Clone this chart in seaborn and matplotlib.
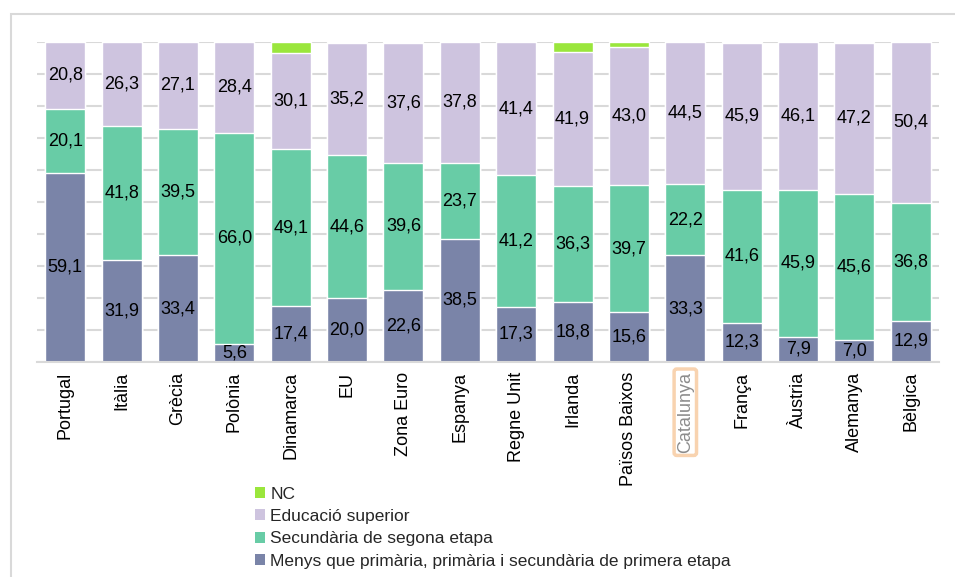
import matplotlib
matplotlib.use("Agg")
import numpy as np
import pandas as pd
import matplotlib.pyplot as plt
from matplotlib.patches import Rectangle, Patch
import seaborn as sns

# Data (percent of population by educational attainment)
countries = ["Portugal", "Itàlia", "Grècia", "Polònia", "Dinamarca", "EU", "Zona Euro",
             "Espanya", "Regne Unit", "Irlanda", "Països Baixos", "Catalunya", "França",
             "Àustria", "Alemanya", "Bèlgica"]
menys = [59.1, 31.9, 33.4, 5.6, 17.4, 20.0, 22.6, 38.5, 17.3, 18.8, 15.6, 33.3, 12.3, 7.9, 7.0, 12.9]
secundaria = [20.1, 41.8, 39.5, 66.0, 49.1, 44.6, 39.6, 23.7, 41.2, 36.3, 39.7, 22.2, 41.6, 45.9, 45.6, 36.8]
superior = [20.8, 26.3, 27.1, 28.4, 30.1, 35.2, 37.6, 37.8, 41.4, 41.9, 43.0, 44.5, 45.9, 46.1, 47.2, 50.4]
nc = [0.0, 0.0, 0.0, 0.0, 3.4, 0.2, 0.2, 0.0, 0.1, 3.0, 1.7, 0.0, 0.2, 0.1, 0.2, 0.0]

series_names = ["Menys que primària, primària i secundària de primera etapa",
                "Secundària de segona etapa", "Educació superior", "NC"]
colors = ["#7A84A8", "#68CCA6", "#CEC4DF", "#9AE63C"]

sns.set_theme(style="white")
plt.rcParams["font.family"] = ["Liberation Sans", "DejaVu Sans"]

df = pd.DataFrame({"pais": countries, "menys": menys, "sec": secundaria,
                   "sup": superior, "nc": nc})
cum = df[["menys", "sec", "sup", "nc"]].cumsum(axis=1)

fig = plt.figure(figsize=(9.55, 5.77), dpi=100)
ax = fig.add_axes([37 / 955, 1 - 362 / 577, 902 / 955, 320 / 577])

# draw stacked bars from the top layer down
for col, color in zip(["nc", "sup", "sec", "menys"], colors[::-1]):
    sns.barplot(x=df["pais"], y=cum[col], color=color, saturation=1, width=0.71,
                ax=ax, zorder=2)

ax.set_ylim(0, 100)
ax.set_xlim(-0.5, len(countries) - 0.5)
ax.set_yticks(np.arange(0, 101, 10))
ax.set_yticklabels([])
ax.tick_params(axis="y", length=0)
ax.yaxis.grid(True, color="#D9D9D9", linewidth=1.5, zorder=0)
ax.set_axisbelow(True)
for s in ["top", "right", "left"]:
    ax.spines[s].set_visible(False)
ax.spines["bottom"].set_color("#D9D9D9")
ax.spines["bottom"].set_linewidth(1.5)
ax.set_xlabel("")
ax.set_ylabel("")
ax.tick_params(axis="x", length=0, pad=7)
ax.set_xticks(range(len(countries)))
ax.set_xticklabels(countries, rotation=90, fontsize=13, color="black")

for lbl in ax.get_xticklabels():
    if lbl.get_text() == "Catalunya":
        lbl.set_color("#8C8C8C")
        lbl.set_bbox(dict(boxstyle="round,pad=0.15", facecolor="white",
                          edgecolor="#F8D3B0", linewidth=2.5))

# segment value labels
for i in range(len(countries)):
    bottom = 0
    for vals in [menys, secundaria, superior]:
        v = vals[i]
        ax.text(i, bottom + v / 2, f"{v:.1f}".replace(".", ","), ha="center",
                va="center", fontsize=13, color="black", zorder=3)
        bottom += v

handles = [Patch(facecolor=c, edgecolor="none") for c in colors[::-1]]
fig.legend(handles, series_names[::-1], loc="upper left",
           bbox_to_anchor=(246 / 955, 1 - 478 / 577), frameon=False,
           fontsize=12.5, handlelength=0.6, handleheight=0.6, handletextpad=0.3,
           labelspacing=0.42, borderpad=0)

# outer frame
fig.patches.append(Rectangle((11 / 955, -0.1), 1.2, 1 - 14 / 577 + 0.1,
                             transform=fig.transFigure, fill=False,
                             edgecolor="#D9D9D9", linewidth=1.5))

fig.savefig("out.png", dpi=100)
